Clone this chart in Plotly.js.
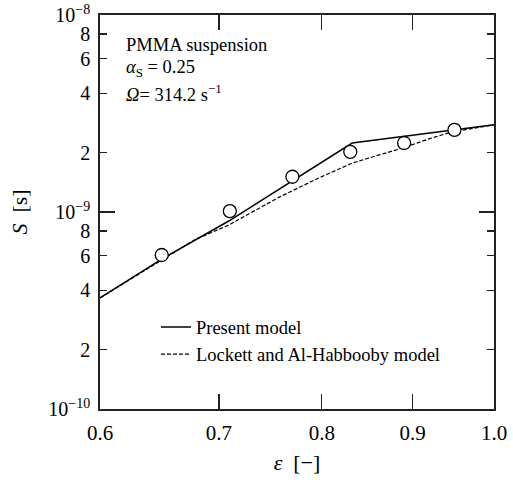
<!DOCTYPE html>
<html>
<head>
<meta charset="utf-8">
<script src="https://cdn.plot.ly/plotly-3.0.1.min.js"></script>
<style>html,body{margin:0;padding:0;background:#fff;}#chart{width:513px;height:482px;}</style>
</head>
<body>
<div id="chart"></div>
<script>
// Present model (solid line)
const presentEps = [0.60, 0.65, 0.709, 0.768, 0.832, 1.00];
const presentS   = [3.66e-10, 5.77e-10, 9.0e-10, 1.42e-9, 2.24e-9, 2.77e-9];

// Lockett and Al-Habbooby model (dashed line)
const lockettEps = [0.60, 0.640, 0.678, 0.709, 0.757, 0.797, 0.832, 0.862, 0.888, 0.919, 0.947, 1.00];
const lockettS   = [3.66e-10, 5.22e-10, 7.21e-10, 8.59e-10, 1.19e-9, 1.49e-9, 1.77e-9, 1.95e-9, 2.11e-9, 2.35e-9, 2.55e-9, 2.77e-9];

// Experimental data (open circles)
const expEps = [0.65, 0.71, 0.77, 0.83, 0.89, 0.95];
const expS   = [6.05e-10, 1.01e-9, 1.51e-9, 2.02e-9, 2.24e-9, 2.61e-9];

// Tick labels
const xTickVals = [0.6, 0.7, 0.8, 0.9, 1.0];
const xTickText = ["0.6", "0.7", "0.8", "0.9", "1.0"];
const yTickVals = [1e-10, 2e-10, 4e-10, 6e-10, 8e-10, 1e-9, 2e-9, 4e-9, 6e-9, 8e-9, 1e-8];
const yTickText = ["10<sup>−10</sup>", "2", "4", "6", "8", "10<sup>−9</sup>", "2", "4", "6", "8", "10<sup>−8</sup>"];
const yMajorVals = [1e-10, 1e-9, 1e-8];

const FONT = "Liberation Serif, Times New Roman, serif";

const traces = [
  {x: presentEps, y: presentS, mode: 'lines', name: 'Present model',
   line: {color: '#000', width: 1.5}},
  {x: lockettEps, y: lockettS, mode: 'lines', name: 'Lockett and Al-Habbooby model',
   line: {color: '#000', width: 1.2, dash: '4px,2px'}},
  {x: expEps, y: expS, mode: 'markers', showlegend: false,
   marker: {symbol: 'circle', size: 13, color: '#fff', line: {color: '#000', width: 1.3}}},
  // invisible trace for the long decade ticks axis
  {x: [0.8], y: [1e-9], yaxis: 'y2', mode: 'markers', showlegend: false, hoverinfo: 'skip',
   marker: {opacity: 0}}
];

const layout = {
  width: 513, height: 482,
  margin: {l: 100, r: 19, t: 15, b: 73},
  paper_bgcolor: '#fff', plot_bgcolor: '#fff',
  font: {family: FONT, color: '#000', size: 18},
  showlegend: true,
  legend: {x: 0.142, y: 0.255, xanchor: 'left', yanchor: 'top', bgcolor: 'rgba(0,0,0,0)',
           font: {family: FONT, size: 18.5}, tracegroupgap: 0},
  xaxis: {
    type: 'log', range: [Math.log10(0.6), 0],
    tickmode: 'array', tickvals: xTickVals, ticktext: xTickText,
    ticks: 'inside', ticklen: 15, tickwidth: 1.2, tickcolor: '#222',
    showline: true, linecolor: '#222', linewidth: 1.8, mirror: 'ticks',
    showgrid: false, zeroline: false, ticklabelstandoff: 4,
    tickfont: {family: FONT, size: 21},
    title: {text: '<i>ε</i>  [−]', font: {family: FONT, size: 22}, standoff: 10}
  },
  yaxis: {
    type: 'log', range: [-10, -8],
    tickmode: 'array', tickvals: yTickVals, ticktext: yTickText,
    ticks: 'inside', ticklen: 7, tickwidth: 1.2, tickcolor: '#222',
    showline: true, linecolor: '#222', linewidth: 1.8, mirror: 'ticks',
    showgrid: false, zeroline: false, ticklabelstandoff: 4,
    tickfont: {family: FONT, size: 20},
    title: {text: '<i>S</i>  [s]', font: {family: FONT, size: 22}, standoff: 14}
  },
  yaxis2: {
    type: 'log', range: [-10, -8], overlaying: 'y', side: 'left',
    tickmode: 'array', tickvals: yMajorVals, showticklabels: false,
    ticks: 'inside', ticklen: 15, tickwidth: 1.2, tickcolor: '#222',
    showline: false, mirror: 'ticks', showgrid: false, zeroline: false
  },
  annotations: [
    {xref: 'paper', yref: 'paper', x: 0.06, y: 0.924, xanchor: 'left', yanchor: 'middle',
     text: 'PMMA suspension', showarrow: false, font: {family: FONT, size: 18.5}},
    {xref: 'paper', yref: 'paper', x: 0.06, y: 0.863, xanchor: 'left', yanchor: 'middle',
     text: '<i>α</i><sub>S</sub> = 0.25', showarrow: false, font: {family: FONT, size: 18.5}},
    {xref: 'paper', yref: 'paper', x: 0.06, y: 0.802, xanchor: 'left', yanchor: 'middle',
     text: '<i>Ω</i>= 314.2 s<sup>−1</sup>', showarrow: false, font: {family: FONT, size: 18.5}}
  ]
};

Plotly.newPlot('chart', traces, layout, {displayModeBar: false, staticPlot: true});
</script>
</body>
</html>
